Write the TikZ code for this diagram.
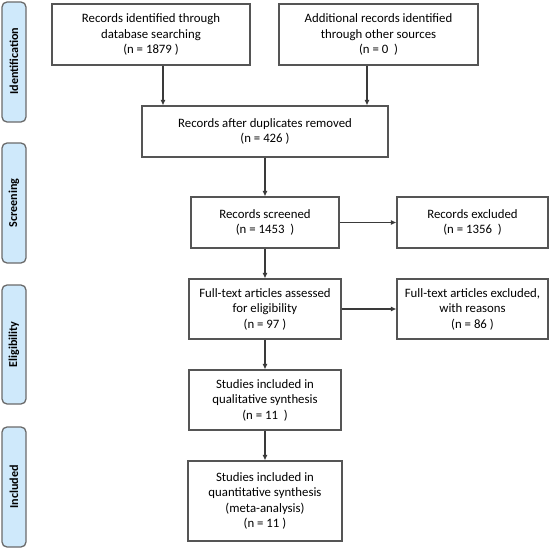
\documentclass[tikz,border=0pt]{standalone}
\usepackage{fontspec}
\setmainfont{Carlito}
\usetikzlibrary{arrows.meta}
\definecolor{sidefill}{HTML}{CFE9FB}
\definecolor{sideline}{HTML}{6A6A6A}
\definecolor{boxline}{HTML}{555555}
\definecolor{arrline}{HTML}{3A3A3A}
\tikzset{
  phase/.style={draw=sideline, line width=1.3pt, fill=sidefill, rounded corners=5pt},
  phasetext/.style={rotate=90, font=\fontsize{12.1}{14}\selectfont\bfseries, text=black},
  flowbox/.style={draw=boxline, line width=1.1pt, align=center, inner sep=0pt,
     font=\fontsize{12.8}{15.5}\selectfont, text=black},
  arr/.style={draw=arrline, line width=1.1pt, -{Latex[length=5.5pt,width=5pt]}}
}
\begin{document}
\begin{tikzpicture}[x=1pt,y=1pt]
\useasboundingbox (0,0) rectangle (550,-549);
% side phases
\draw[phase] (2,-2) rectangle (26,-122);
\draw[phase] (2,-143) rectangle (26,-263);
\draw[phase] (2,-285) rectangle (26,-404);
\draw[phase] (2,-427) rectangle (26,-547);
\node[phasetext] (pid) at (14,-61) {Identification};
\node[phasetext] (psc) at (14,-203) {Screening};
\node[phasetext] (pel) at (14,-344.5) {Eligibility};
\node[phasetext] (pin) at (14,-487) {Included};
% boxes
\node[flowbox, minimum width=198pt, minimum height=61pt] (b1) at (151,-34.5)
  {Records identified through\\database searching\\(n = 1879 )};
\node[flowbox, minimum width=199pt, minimum height=61pt] (b2) at (378.5,-34.5)
  {Additional records identified\\through other sources\\(n = 0\ \ )};
\node[flowbox, minimum width=246pt, minimum height=51pt] (b3) at (265,-131.5)
  {Records after duplicates removed\\(n = 426 )};
\node[flowbox, minimum width=148pt, minimum height=51pt] (b4) at (265,-222.5)
  {Records screened\\(n = 1453\ \ )};
\node[flowbox, minimum width=151pt, minimum height=51pt] (b5) at (472.5,-222.5)
  {Records excluded\\(n = 1356\ \ )};
\node[flowbox, minimum width=152pt, minimum height=60pt] (b6) at (265,-309)
  {Full-text articles assessed\\for eligibility\\(n = 97 )};
\node[flowbox, minimum width=151pt, minimum height=60pt] (b7) at (472.5,-309)
  {Full-text articles excluded,\\with reasons\\(n = 86 )};
\node[flowbox, minimum width=152pt, minimum height=60pt] (b8) at (265,-400)
  {Studies included in\\qualitative synthesis\\(n = 11\ \ )};
\node[flowbox, minimum width=154pt, minimum height=80pt] (b9) at (265,-501)
  {Studies included in\\quantitative synthesis\\(meta-analysis)\\(n = 11 )};
% arrows
\coordinate (a1) at ([xshift=12pt]b1.south);
\coordinate (a2) at ([xshift=-11.5pt]b2.south);
\draw[arr] (a1) -- (a1 |- b3.north);
\draw[arr] (a2) -- (a2 |- b3.north);
\draw[arr] (b3) -- (b4);
\draw[arr] (b4) -- (b6);
\draw[arr] (b6) -- (b8);
\draw[arr] (b8) -- (b9);
\draw[arr] (b4) -- (b5);
\draw[arr] (b6) -- (b7);
\end{tikzpicture}
\end{document}
